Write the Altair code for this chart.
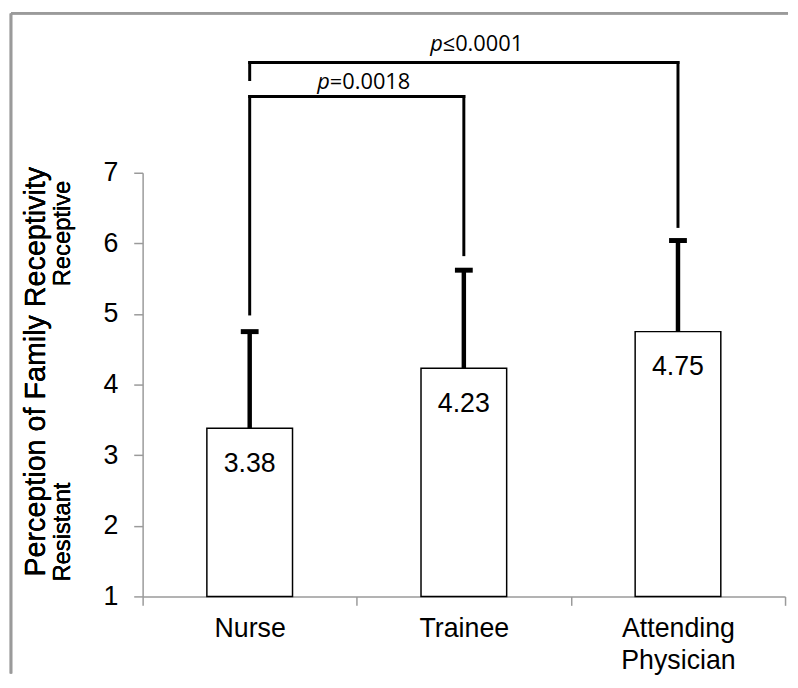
import altair as alt
import pandas as pd

roles = ["Nurse", "Trainee", "Attending Physician"]
means = [3.38, 4.23, 4.75]
upper = [4.75, 5.62, 6.04]
value_labels = ["3.38", "4.23", "4.75"]

# significance brackets (data units)
v_role = ["Nurse", "Trainee", "Nurse", "Attending Physician"]
v_lo = [5.00, 5.84, 8.32, 6.24]
v_hi = [8.08, 8.08, 8.56, 8.56]
h_from = ["Nurse", "Nurse"]
h_to = ["Trainee", "Attending Physician"]
h_y = [8.08, 8.56]
p_rest = ["=0.0018", "\u22640.0001"]
p_y = [8.18, 8.72]
p_dx = [81, 195]

W, H = 649, 428
GRAY = "#9a9a9a"

df = pd.DataFrame({"role": roles, "mean": means, "upper": upper, "lab": value_labels})
vdf = pd.DataFrame({"role": v_role, "lo": v_lo, "hi": v_hi})
hdf = pd.DataFrame({"a": h_from, "b": h_to, "y": h_y})

xenc = alt.X("role:N", sort=roles, title=None,
             scale=alt.Scale(paddingInner=0, paddingOuter=0),
             axis=alt.Axis(labelAngle=0, labelFontSize=27, labelFont="Liberation Sans",
                           labelColor="black", domainColor=GRAY, domainWidth=1.5,
                           tickColor=GRAY, tickWidth=1.5, tickSize=9, tickBand="extent",
                           labelPadding=11, labelLineHeight=32,
                           labelExpr="split(datum.label, ' ')"))
yscale = alt.Scale(domain=[1, 7], nice=False, zero=False)
yenc = alt.Y("mean:Q", scale=yscale, title=None,
             axis=alt.Axis(values=[1, 2, 3, 4, 5, 6, 7], format="d", labelFontSize=27,
                           labelFont="Liberation Sans", labelColor="black",
                           domainColor=GRAY, domainWidth=1.5, tickColor=GRAY,
                           tickWidth=1.5, tickSize=9, labelPadding=16, grid=False))

base = alt.Chart(df)
bars = base.mark_bar(fill="white", stroke="black", strokeWidth=1.5,
                     width={"band": 0.4}).encode(x=xenc, y=yenc, y2=alt.datum(1))
err = base.mark_rule(color="black", strokeWidth=4.5).encode(
    x=alt.X("role:N", sort=roles), y=alt.Y("mean:Q", scale=yscale), y2="upper:Q")
caps = base.mark_tick(color="black", thickness=5, size=18, opacity=1).encode(
    x=alt.X("role:N", sort=roles), y=alt.Y("upper:Q", scale=yscale))
vals = base.mark_text(baseline="top", dy=23, fontSize=27, font="Liberation Sans",
                      color="black").encode(
    x=alt.X("role:N", sort=roles), y=alt.Y("mean:Q", scale=yscale), text="lab:N")

vlines = alt.Chart(vdf).mark_rule(color="black", strokeWidth=3, strokeCap="square").encode(
    x=alt.X("role:N", sort=roles), y=alt.Y("lo:Q", scale=yscale), y2="hi:Q")
hlines = alt.Chart(hdf).mark_rule(color="black", strokeWidth=3, strokeCap="square").encode(
    x=alt.X("a:N", sort=roles, scale=alt.Scale(domain=roles)), x2="b:N",
    y=alt.Y("y:Q", scale=yscale))

ptexts = []
for i in range(2):
    ptexts.append(alt.Chart(pd.DataFrame({"role": ["Nurse"], "y": [p_y[i]]})).mark_text(
        text="p", fontStyle="italic", font="Open Sans", fontSize=22, align="right",
        baseline="alphabetic", dx=p_dx[i], color="black").encode(
        x=alt.X("role:N", sort=roles), y=alt.Y("y:Q", scale=yscale)))
    ptexts.append(alt.Chart(pd.DataFrame({"role": ["Nurse"], "y": [p_y[i]]})).mark_text(
        text=p_rest[i], font="Open Sans", fontSize=22, align="left",
        baseline="alphabetic", dx=p_dx[i], color="black").encode(
        x=alt.X("role:N", sort=roles), y=alt.Y("y:Q", scale=yscale)))

title_main = alt.Chart(df).mark_text(
    text="Perception of Family Receptivity", angle=270, fontSize=29,
    font="Liberation Sans", align="center", baseline="middle", color="black").encode(
    x=alt.value(-108), y=alt.value(201))
receptive = alt.Chart(df).mark_text(
    text="Receptive", angle=270, fontSize=24, font="Liberation Sans",
    align="right", baseline="middle", color="black").encode(
    x=alt.value(-80), y=alt.value(8))
resistant = alt.Chart(df).mark_text(
    text="Resistant", angle=270, fontSize=24, font="Liberation Sans",
    align="left", baseline="middle", color="black").encode(
    x=alt.value(-80), y=alt.value(413))

frame_top = alt.Chart(df).mark_rule(color=GRAY, strokeWidth=2.5).encode(
    x=alt.value(-133), x2=alt.value(652), y=alt.value(-161))
frame_left = alt.Chart(df).mark_rule(color=GRAY, strokeWidth=2.5).encode(
    x=alt.value(-133), y=alt.value(-161), y2=alt.value(506))

chart = alt.layer(frame_top, frame_left, bars, err, caps, vals, vlines, hlines,
                  *ptexts, title_main, receptive, resistant).properties(
    width=W, height=H, padding={"left": 1, "top": 0, "right": 0, "bottom": 0},
    background="white"
).configure_view(stroke=None)

chart.save("out.html", embed_options={"renderer": "svg", "actions": False})
